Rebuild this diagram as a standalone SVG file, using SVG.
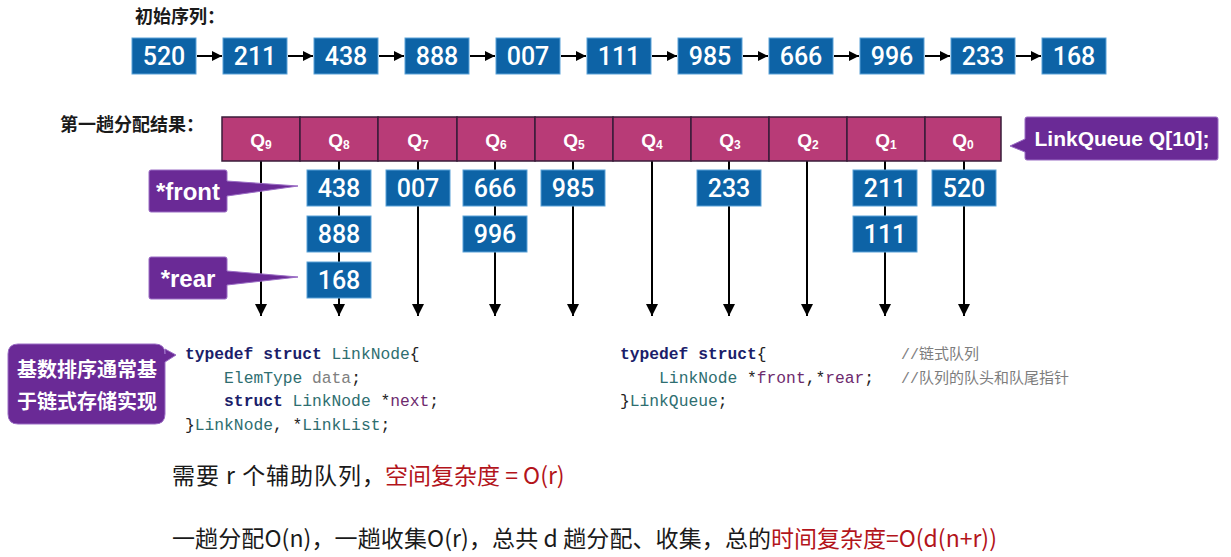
<svg xmlns="http://www.w3.org/2000/svg" width="1231" height="557" viewBox="0 0 1231 557">
<defs>
<style>
.bx{fill:#0d63a6;stroke:#5aa2d8;stroke-width:1}
.num{font-family:Roboto,"Liberation Sans",sans-serif;font-weight:500;font-size:25px;fill:#fff;text-anchor:middle}
.ln{stroke:#000;stroke-width:2;fill:none}
.qc{fill:#b83b77;stroke:#3a1d3a;stroke-width:1.5}
.ql{font-family:"Liberation Sans",Arial,sans-serif;font-weight:bold;font-size:19px;fill:#fff;text-anchor:middle}
.co{fill:#6a2a96;stroke:#9a6cc4;stroke-width:1}
.cot{font-family:"Liberation Sans",Arial,sans-serif;font-weight:bold;fill:#fff}
.h{font-family:"Noto Sans CJK SC",sans-serif;font-weight:bold;font-size:18px;fill:#1a1a1a}
.nt{font-family:"Noto Sans CJK SC",sans-serif;font-weight:bold;font-size:20px;fill:#fff;text-anchor:middle}
.code{font-family:"Liberation Mono","DejaVu Sans Mono","Noto Sans CJK SC",monospace;font-size:16.3px;fill:#222}
.kw{fill:#1b1e6a;font-weight:bold}
.ty{fill:#2e6e70}
.va{fill:#808080}
.pu{fill:#6e2a6e}
.cm{fill:#7d7d7d;font-family:"Liberation Mono","Noto Sans CJK SC",monospace;font-size:15px}
.bt{font-family:"Noto Sans CJK SC",sans-serif;font-size:23px;fill:#1a1a1a}
.red{fill:#b3141b}
</style>
<marker id="ah" viewBox="0 0 10 10" refX="10" refY="5" markerWidth="10" markerHeight="10" markerUnits="userSpaceOnUse" orient="auto"><path d="M0,0 L10,5 L0,10 z" fill="#000"/></marker>
<marker id="av" viewBox="0 0 12 12" refX="12" refY="6" markerWidth="12" markerHeight="12" markerUnits="userSpaceOnUse" orient="auto"><path d="M0,0 L12,6 L0,12 z" fill="#000"/></marker>
</defs>
<rect width="1231" height="557" fill="#fff"/>

<text class="h" x="135" y="23">初始序列：</text>
<text class="h" x="60" y="131">第一趟分配结果：</text>

<g id="connectors">
<g class="ln" marker-end="url(#ah)">
<line x1="197" y1="56" x2="222" y2="56"/>
<line x1="288" y1="56" x2="313" y2="56"/>
<line x1="379" y1="56" x2="404" y2="56"/>
<line x1="470" y1="56" x2="495" y2="56"/>
<line x1="561" y1="56" x2="586" y2="56"/>
<line x1="652" y1="56" x2="677" y2="56"/>
<line x1="743" y1="56" x2="768" y2="56"/>
<line x1="834" y1="56" x2="859" y2="56"/>
<line x1="925" y1="56" x2="950" y2="56"/>
<line x1="1016" y1="56" x2="1041" y2="56"/>
</g>
<g class="ln" marker-end="url(#av)">
<line x1="261" y1="161" x2="261" y2="316"/>
<line x1="339" y1="161" x2="339" y2="316"/>
<line x1="418" y1="161" x2="418" y2="316"/>
<line x1="495" y1="161" x2="495" y2="316"/>
<line x1="573" y1="161" x2="573" y2="316"/>
<line x1="652" y1="161" x2="652" y2="316"/>
<line x1="729" y1="161" x2="729" y2="316"/>
<line x1="807" y1="161" x2="807" y2="316"/>
<line x1="885" y1="161" x2="885" y2="316"/>
<line x1="964" y1="161" x2="964" y2="316"/>
</g>
</g>

<g id="seq">
<g id="s520"><rect class="bx" x="132" y="38" width="64" height="36"/><text class="num" x="164" y="65">520</text></g>
<g id="s211"><rect class="bx" x="223" y="38" width="64" height="36"/><text class="num" x="255" y="65">211</text></g>
<g id="s438"><rect class="bx" x="314" y="38" width="64" height="36"/><text class="num" x="346" y="65">438</text></g>
<g id="s888"><rect class="bx" x="405" y="38" width="64" height="36"/><text class="num" x="437" y="65">888</text></g>
<g id="s007"><rect class="bx" x="496" y="38" width="64" height="36"/><text class="num" x="528" y="65">007</text></g>
<g id="s111"><rect class="bx" x="587" y="38" width="64" height="36"/><text class="num" x="619" y="65">111</text></g>
<g id="s985"><rect class="bx" x="678" y="38" width="64" height="36"/><text class="num" x="710" y="65">985</text></g>
<g id="s666"><rect class="bx" x="769" y="38" width="64" height="36"/><text class="num" x="801" y="65">666</text></g>
<g id="s996"><rect class="bx" x="860" y="38" width="64" height="36"/><text class="num" x="892" y="65">996</text></g>
<g id="s233"><rect class="bx" x="951" y="38" width="64" height="36"/><text class="num" x="983" y="65">233</text></g>
<g id="s168"><rect class="bx" x="1042" y="38" width="64" height="36"/><text class="num" x="1074" y="65">168</text></g>
</g>

<g id="queues">
<g id="q9"><rect class="qc" x="222" y="117" width="78" height="44"/><text class="ql" x="261" y="147">Q<tspan font-size="12" dy="2">9</tspan></text></g>
<g id="q8"><rect class="qc" x="300" y="117" width="78" height="44"/><text class="ql" x="339" y="147">Q<tspan font-size="12" dy="2">8</tspan></text></g>
<g id="q7"><rect class="qc" x="378" y="117" width="79" height="44"/><text class="ql" x="418" y="147">Q<tspan font-size="12" dy="2">7</tspan></text></g>
<g id="q6"><rect class="qc" x="457" y="117" width="78" height="44"/><text class="ql" x="496" y="147">Q<tspan font-size="12" dy="2">6</tspan></text></g>
<g id="q5"><rect class="qc" x="535" y="117" width="78" height="44"/><text class="ql" x="574" y="147">Q<tspan font-size="12" dy="2">5</tspan></text></g>
<g id="q4"><rect class="qc" x="613" y="117" width="78" height="44"/><text class="ql" x="652" y="147">Q<tspan font-size="12" dy="2">4</tspan></text></g>
<g id="q3"><rect class="qc" x="691" y="117" width="78" height="44"/><text class="ql" x="730" y="147">Q<tspan font-size="12" dy="2">3</tspan></text></g>
<g id="q2"><rect class="qc" x="769" y="117" width="78" height="44"/><text class="ql" x="808" y="147">Q<tspan font-size="12" dy="2">2</tspan></text></g>
<g id="q1"><rect class="qc" x="847" y="117" width="78" height="44"/><text class="ql" x="886" y="147">Q<tspan font-size="12" dy="2">1</tspan></text></g>
<g id="q0"><rect class="qc" x="925" y="117" width="76" height="44"/><text class="ql" x="963" y="147">Q<tspan font-size="12" dy="2">0</tspan></text></g>
</g>

<g id="elements">
<g id="e438"><rect class="bx" x="307" y="170" width="64" height="36"/><text class="num" x="339" y="197">438</text></g>
<g id="e888"><rect class="bx" x="307" y="216" width="64" height="36"/><text class="num" x="339" y="243">888</text></g>
<g id="e168"><rect class="bx" x="307" y="262" width="64" height="36"/><text class="num" x="339" y="289">168</text></g>
<g id="e007"><rect class="bx" x="386" y="170" width="64" height="36"/><text class="num" x="418" y="197">007</text></g>
<g id="e666"><rect class="bx" x="463" y="170" width="64" height="36"/><text class="num" x="495" y="197">666</text></g>
<g id="e996"><rect class="bx" x="463" y="216" width="64" height="36"/><text class="num" x="495" y="243">996</text></g>
<g id="e985"><rect class="bx" x="541" y="170" width="64" height="36"/><text class="num" x="573" y="197">985</text></g>
<g id="e233"><rect class="bx" x="697" y="170" width="64" height="36"/><text class="num" x="729" y="197">233</text></g>
<g id="e211"><rect class="bx" x="853" y="170" width="64" height="36"/><text class="num" x="885" y="197">211</text></g>
<g id="e111"><rect class="bx" x="853" y="216" width="64" height="36"/><text class="num" x="885" y="243">111</text></g>
<g id="e520"><rect class="bx" x="932" y="170" width="64" height="36"/><text class="num" x="964" y="197">520</text></g>
</g>

<g id="front">
<path class="co" d="M151,170 H225 Q227,170 227,172 V181 L298,186 L227,196 V210 Q227,212 225,212 H151 Q149,212 149,210 V172 Q149,170 151,170 Z"/>
<text class="cot" x="188" y="200" font-size="24" text-anchor="middle">*front</text>
</g>
<g id="rear">
<path class="co" d="M151,257 H225 Q227,257 227,259 V271 L298,277 L227,285 V297 Q227,299 225,299 H151 Q149,299 149,297 V259 Q149,257 151,257 Z"/>
<text class="cot" x="188" y="287" font-size="24" text-anchor="middle">*rear</text>
</g>
<g id="linkqueue">
<path class="co" d="M1027,117 H1216 Q1218,117 1218,119 V158 Q1218,160 1216,160 H1027 Q1025,160 1025,158 V152 L1010,146 L1025,139 V119 Q1025,117 1027,117 Z"/>
<text class="cot" x="1122" y="146" font-size="21" text-anchor="middle">LinkQueue Q[10];</text>
</g>
<g id="note">
<path class="co" d="M18,344 H155 Q165,344 165,354 V349 L176,355 L165,362 V414 Q165,424 155,424 H18 Q8,424 8,414 V354 Q8,344 18,344 Z"/>
<text class="nt" x="87" y="377">基数排序通常基</text>
<text class="nt" x="87" y="409">于链式存储实现</text>
</g>

<g id="code-linknode" class="code">
<text x="185" y="359" xml:space="preserve"><tspan class="kw">typedef struct</tspan> <tspan class="ty">LinkNode</tspan>{</text>
<text x="185" y="383" xml:space="preserve">    <tspan class="ty">ElemType</tspan> <tspan class="va">data</tspan>;</text>
<text x="185" y="406" xml:space="preserve">    <tspan class="kw">struct</tspan> <tspan class="ty">LinkNode</tspan> *<tspan class="pu">next</tspan>;</text>
<text x="185" y="430" xml:space="preserve">}<tspan class="ty">LinkNode</tspan>, *<tspan class="ty">LinkList</tspan>;</text>
</g>
<g id="code-linkqueue" class="code">
<text x="620" y="359" xml:space="preserve"><tspan class="kw">typedef struct</tspan>{</text>
<text x="620" y="383" xml:space="preserve">    <tspan class="ty">LinkNode</tspan> *<tspan class="pu">front</tspan>,*<tspan class="pu">rear</tspan>;</text>
<text x="620" y="406" xml:space="preserve">}<tspan class="ty">LinkQueue</tspan>;</text>
<text class="cm" x="901" y="359">//链式队列</text>
<text class="cm" x="901" y="383">//队列的队头和队尾指针</text>
</g>

<g id="summary">
<text class="bt" x="172" y="484" textLength="213" lengthAdjust="spacing">需要 r 个辅助队列，</text>
<text class="bt red" x="385" y="484">空间复杂度 = O(r)</text>
<text class="bt" x="172" y="547" textLength="599" lengthAdjust="spacing">一趟分配O(n)，一趟收集O(r)，总共 d 趟分配、收集，总的</text>
<text class="bt red" x="771" y="547">时间复杂度=O(d(n+r))</text>
</g>
</svg>
